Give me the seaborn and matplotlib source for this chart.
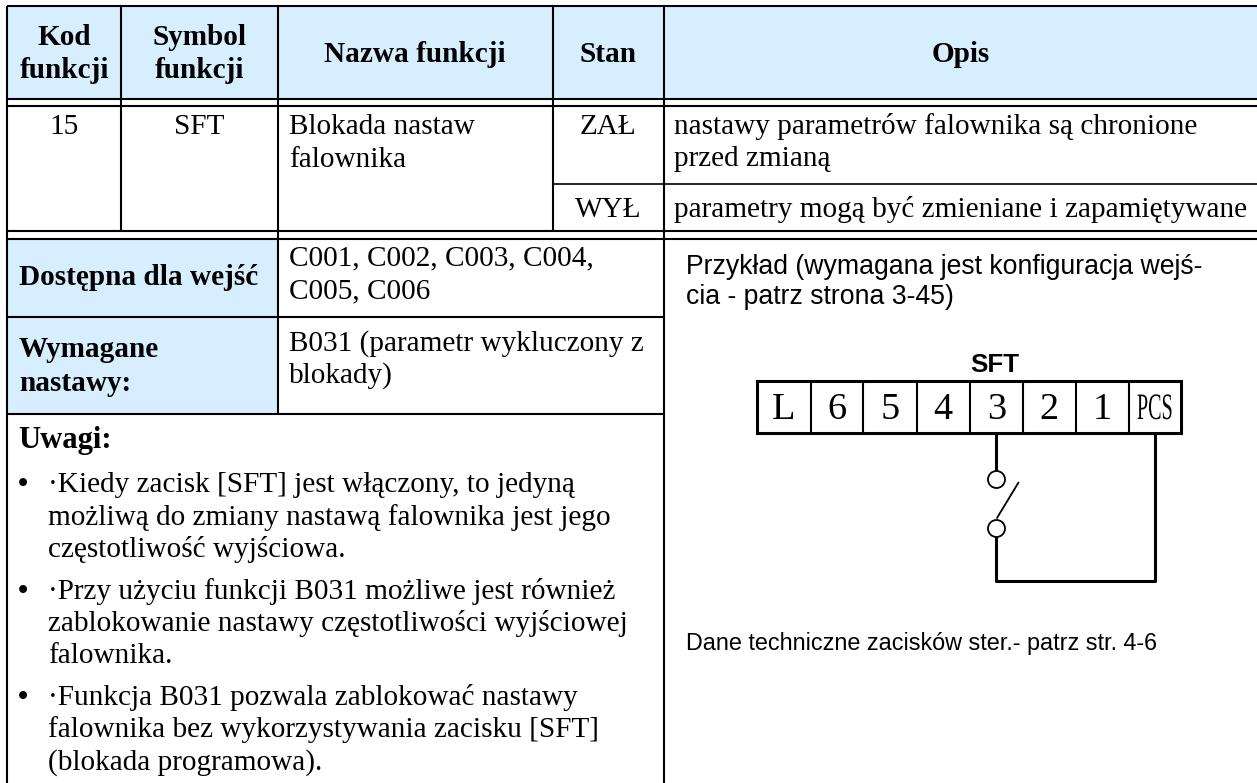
import matplotlib
matplotlib.use("Agg")
import matplotlib.pyplot as plt
from matplotlib.patches import Rectangle
from matplotlib.patheffects import AbstractPathEffect
from matplotlib.transforms import Affine2D
import pandas as pd
import seaborn as sns

header_labels = ["Kod\nfunkcji", "Symbol\nfunkcji", "Nazwa funkcji", "Stan", "Opis"]
kod = "15"
symbol = "SFT"
nazwa = ["Blokada nastaw", "falownika"]
stan = ["ZAŁ", "WYŁ"]
opis_zal = ["nastawy parametrów falownika są chronione", "przed zmianą"]
opis_wyl = ["parametry mogą być zmieniane i zapamiętywane"]
dostepna_label = "Dostępna dla wejść"
dostepna_vals = ["C001, C002, C003, C004,", "C005, C006"]
wymagane_label = ["Wymagane", "nastawy:"]
wymagane_vals = ["B031 (parametr wykluczony z", "blokady)"]
uwagi_title = "Uwagi:"
uwagi_1 = ["·Kiedy zacisk [SFT] jest włączony, to jedyną",
           "możliwą do zmiany nastawą falownika jest jego",
           "częstotliwość wyjściowa."]
uwagi_2 = ["·Przy użyciu funkcji B031 możliwe jest również",
           "zablokowanie nastawy częstotliwości wyjściowej",
           "falownika."]
uwagi_3 = ["·Funkcja B031 pozwala zablokować nastawy",
           "falownika bez wykorzystywania zacisku [SFT]",
           "(blokada programowa)."]
przyklad = ["Przykład (wymagana jest konfiguracja wejś-", "cia - patrz strona 3-45)"]
terminals = ["L", "6", "5", "4", "3", "2", "1", "PCS"]
diagram_title = "SFT"
stopka = "Dane techniczne zacisków ster.- patrz str. 4-6"

W, H = 1257, 783
BLUE = "#d6eefd"
SERIF = "Liberation Serif"
SANS = "Liberation Sans"
BODY = 21.1
LW = 1.5


# the PCS label is squeezed in the reference, so pull the glyphs taller
class StretchY(AbstractPathEffect):
    def __init__(self, sy):
        super().__init__()
        self.sy = sy

    def draw_path(self, renderer, gc, tpath, affine, rgbFace=None):
        renderer.draw_path(gc, tpath, Affine2D().scale(1, self.sy) + affine, rgbFace)


sns.set_theme(style="white")
plt.rcParams["font.family"] = [SERIF, "DejaVu Sans"]

fig = plt.figure(figsize=(W / 100, H / 100), dpi=100)
ax = fig.add_axes([0, 0, 1, 1])
ax.set_xlim(0, W)
ax.set_ylim(H, 0)
ax.axis("off")

# column and row edges in pixels
xl, x1, x2, x3, x4 = 7, 121, 277.5, 553, 664
yt, y1, y2, y3, y4, y5, y6, y7 = 6, 98.7, 105.7, 184.3, 231.3, 238.7, 317.3, 414

for x, y, w, h in [(xl, yt, W - xl, y1 - yt), (xl, y5, x2 - xl, y6 - y5), (xl, y6, x2 - xl, y7 - y6)]:
    ax.add_patch(Rectangle((x, y), w, h, fc=BLUE, ec="none", zorder=0))

for y in [yt, y1, y2, y4, y5]:
    ax.hlines(y, xl, W, color="black", lw=LW)
ax.hlines(y3, x3, W, color="black", lw=LW * 0.8)
ax.hlines([y6, y7], xl, x4, color="black", lw=LW)
ax.vlines(xl, yt, H, color="black", lw=LW)
ax.vlines([x1, x3], yt, y4, color="black", lw=LW)
ax.vlines(x2, yt, y7, color="black", lw=LW)
ax.vlines(x4, yt, H, color="black", lw=LW)


def put(x, y, s, ha="left", bold=False, family=SERIF, size=BODY):
    return ax.text(x, y, s, ha=ha, va="baseline", fontsize=size, family=family,
                   fontweight="bold" if bold else "normal", color="black")


def block(x, ys, lines, **kw):
    for y, s in zip(ys, lines):
        put(x, y, s, **kw)


# header
hdr_x = [64, 199, 415, 608, 961]
for x, lab in zip(hdr_x, header_labels):
    parts = lab.split("\n")
    ys = [45, 78] if len(parts) == 2 else [61.7]
    block(x, ys, parts, ha="center", bold=True)

# first rows
put(64, 134, kod, ha="center")
put(199, 134, symbol, ha="center")
block(289, [134, 166.7], nazwa)
block(608, [134, 216.7], stan, ha="center")
block(674, [134, 165.7], opis_zal)
block(674, [216.7], opis_wyl)

# left block
put(19, 285, dostepna_label, bold=True)
block(289, [265.7, 298.5], dostepna_vals)
block(19, [357, 390.7], wymagane_label, bold=True)
block(289, [350.7, 383], wymagane_vals)

put(18, 448, uwagi_title, bold=True, size=BODY + 1)
note_ys = [[491.7, 525, 557.3], [599, 630.7, 663.3], [705, 737.3, 770]]
for ys, lines in zip(note_ys, [uwagi_1, uwagi_2, uwagi_3]):
    put(18, ys[0], "•", bold=True)
    block(48, ys, lines)

# right block
block(686, [274, 304], przyklad, family=SANS, size=19.15)
put(995, 372, diagram_title, ha="center", bold=True, family=SANS, size=18.7)
put(686, 650, stopka, family=SANS, size=16.8)

# terminal strip
bx = [756.7, 810.5, 863, 916.5, 970, 1022.5, 1075.5, 1129, 1180.7]
by0, by1 = 380.7, 432.7
ax.add_patch(Rectangle((bx[0], by0), bx[-1] - bx[0], by1 - by0, fc="none", ec="black", lw=2.2))
ax.vlines(bx[1:-1], by0, by1, color="black", lw=LW)
for i, t in enumerate(terminals):
    cx = (bx[i] + bx[i + 1]) / 2
    if t == "PCS":
        put(cx, 419, t, ha="center", size=14.5).set_path_effects([StretchY(1.85)])
    else:
        put(cx, 419, t, ha="center", size=27.5)

# wiring
wire = pd.DataFrame({"x": [995.7, 995.7], "y": [by1, 471]})
sns.lineplot(data=wire, x="x", y="y", sort=False, estimator=None, color="black", lw=2.2, ax=ax)
wire2 = pd.DataFrame({"x": [995.7, 995.7, 1154.7, 1154.7], "y": [535, 581, 581, by1]})
sns.lineplot(data=wire2, x="x", y="y", sort=False, estimator=None, color="black", lw=2.2, ax=ax)
blade = pd.DataFrame({"x": [997, 1018.5], "y": [518, 482.5]})
sns.lineplot(data=blade, x="x", y="y", sort=False, estimator=None, color="black", lw=1.3, ax=ax)
pins = pd.DataFrame({"x": [995.7, 995.7], "y": [479, 527.7]})
sns.scatterplot(data=pins, x="x", y="y", s=150, color="white", edgecolor="black", linewidth=1.3, ax=ax, zorder=5)

ax.set_xlim(0, W)
ax.set_ylim(H, 0)
ax.axis("off")
fig.savefig("out.png", dpi=100)
